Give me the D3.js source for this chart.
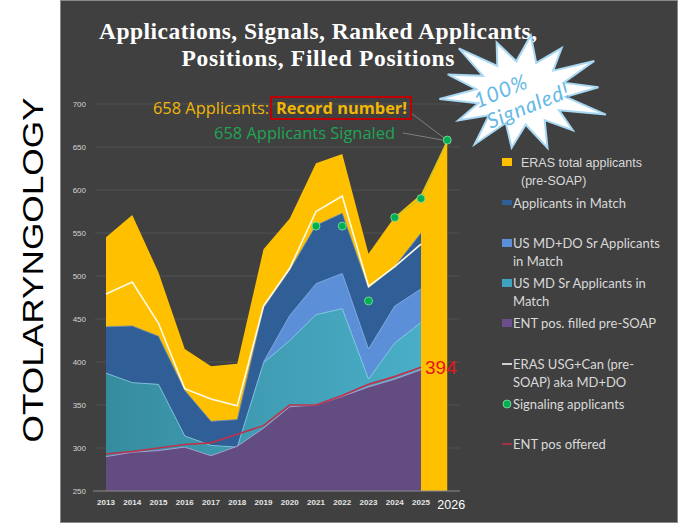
<!DOCTYPE html>
<html>
<head>
<meta charset="utf-8">
<script src="https://cdn.jsdelivr.net/npm/d3@7"></script>
<style>
  body { margin: 0; background: #fff; }
  svg { display: block; }
</style>
</head>
<body>
<div id="chart"></div>
<script>
// -----------
// DATOS
// -----------
const years = [2013, 2014, 2015, 2016, 2017, 2018, 2019, 2020, 2021, 2022, 2023, 2024, 2025, 2026];
const erasTotal = [545, 571, 504, 415, 395, 398, 531, 567, 631, 642, 526, 569, 595, 658];
const inMatch = [441, 442, 430, 367, 331, 333, 463, 507, 559, 573, 486, 511, 550];
const mdDoSr = [null, null, null, null, null, null, 400, 454, 491, 503, 415, 465, 485];
const mdSr = [387, 376, 374, 314, 303, 301, 399, 425, 455, 462, 380, 422, 446];
const entFilled = [290, 295, 297, 301, 291, 302, 323, 348, 350, 360, 371, 380, 391];
const erasUsg = [479, 493, 445, 369, 357, 349, 465, 509, 575, 593, 488, 511, 537];
const entOffered = [293, 296, 300, 304, 306, 316, 326, 350, 350, 361, 374, 383, 394];
const signaling = [null, null, null, null, null, null, null, null, 558, 558, 471, 568, 590, 658];
const yTicks = [250, 300, 350, 400, 450, 500, 550, 600, 650, 700];

const legendItems = [
  { kind: 'sq', color: '#ffc000', lines: ['ERAS total applicants', '(pre-SOAP)'], y: 162, first: true },
  { kind: 'bar', color: '#2f5f96', lines: ['Applicants in Match'], y: 203 },
  { kind: 'sq', color: '#5b8fd8', lines: ['US MD+DO Sr Applicants', 'in Match'], y: 243 },
  { kind: 'sq', color: '#3fa3bf', lines: ['US MD Sr Applicants in', 'Match'], y: 283 },
  { kind: 'sq', color: '#6a4f8c', lines: ['ENT pos. filled pre-SOAP'], y: 323 },
  { kind: 'line', color: '#ffffff', lines: ['ERAS USG+Can (pre-', 'SOAP) aka MD+DO'], y: 364 },
  { kind: 'dot', color: '#00b050', lines: ['Signaling applicants'], y: 404 },
  { kind: 'line', color: '#c0304a', lines: ['ENT pos offered'], y: 444 },
];

const W = 680, H = 528;
const svg = d3.select('#chart').append('svg').attr('width', W).attr('height', H);

// texto vertical
svg.append('text')
  .attr('transform', 'translate(43,270) rotate(-90)')
  .attr('text-anchor', 'middle')
  .attr('font-family', 'Liberation Sans, Arial, sans-serif')
  .attr('font-size', 30)
  .attr('textLength', 345)
  .attr('lengthAdjust', 'spacingAndGlyphs')
  .attr('fill', '#000')
  .text('OTOLARYNGOLOGY');

// panel
svg.append('rect').attr('x', 60.5).attr('y', 0.5).attr('width', 617).attr('height', 522)
  .attr('fill', '#404040').attr('stroke', '#8a8a8a');

const defs = svg.append('defs');
const grad = defs.append('linearGradient').attr('id', 'tealGrad').attr('x1', '0%').attr('x2', '100%');
grad.append('stop').attr('offset', '0%').attr('stop-color', '#368c9f');
grad.append('stop').attr('offset', '100%').attr('stop-color', '#4aaec8');

const x = d3.scaleLinear().domain([2013, 2026]).range([106, 447.25]);
const y = d3.scaleLinear().domain([250, 700]).range([491, 104]);

// grid
svg.append('g').selectAll('line').data(yTicks.filter(d => d > 250)).join('line')
  .attr('x1', 95).attr('x2', 460)
  .attr('y1', d => y(d)).attr('y2', d => y(d))
  .attr('stroke', '#555').attr('stroke-width', 0.8);

// eje y
svg.append('g').selectAll('text').data(yTicks).join('text')
  .attr('x', 86).attr('y', d => y(d) + 3)
  .attr('text-anchor', 'end')
  .attr('font-family', 'Liberation Sans, Arial, sans-serif')
  .attr('font-size', 8)
  .attr('fill', '#d4d4d4')
  .text(d => d);

function serie(vals) {
  return vals.map((v, i) => ({ year: years[i], v }));
}

const area = d3.area()
  .defined(d => d.v != null)
  .x(d => x(d.year))
  .y0(y(250))
  .y1(d => y(d.v));

const line = d3.line()
  .defined(d => d.v != null)
  .x(d => x(d.year))
  .y(d => y(d.v));

const areas = [
  { vals: erasTotal, fill: '#ffc000', edge: 'none' },
  { vals: inMatch, fill: '#2f5f96', edge: '#6f8fb8' },
  { vals: mdDoSr, fill: '#5b8fd8', edge: '#8fb3e6' },
  { vals: mdSr, fill: 'url(#tealGrad)', edge: '#8fd3e6' },
  { vals: entFilled, fill: '#624c80', edge: '#b9a9dc' },
];

areas.forEach(a => {
  const d = serie(a.vals);
  svg.append('path').attr('d', area(d)).attr('fill', a.fill);
  if (a.edge !== 'none') {
    svg.append('path').attr('d', line(d)).attr('fill', 'none')
      .attr('stroke', a.edge).attr('stroke-width', 0.8);
  }
});

// eje x
svg.append('line').attr('x1', 93).attr('x2', 460).attr('y1', y(250)).attr('y2', y(250))
  .attr('stroke', '#8c8c8c').attr('stroke-width', 1);

svg.append('g').selectAll('text').data(years.slice(0, 13)).join('text')
  .attr('x', d => x(d)).attr('y', 505)
  .attr('text-anchor', 'middle')
  .attr('font-family', 'Liberation Sans, Arial, sans-serif')
  .attr('font-weight', 'bold')
  .attr('font-size', 8)
  .attr('fill', '#e6e6e6')
  .text(d => d);
svg.append('text').attr('x', x(2026) + 4).attr('y', 509)
  .attr('text-anchor', 'middle')
  .attr('font-family', 'Liberation Sans, Arial, sans-serif')
  .attr('font-size', 12.5)
  .attr('fill', '#ffffff')
  .text(2026);

// lineas
svg.append('path').attr('d', line(serie(erasUsg))).attr('fill', 'none')
  .attr('stroke', '#fffbe8').attr('stroke-width', 1.6);
svg.append('path').attr('d', line(serie(entOffered))).attr('fill', 'none')
  .attr('stroke', '#c0304a').attr('stroke-width', 1.6);

// linea tenue entre los ultimos puntos de signaling
const sig = serie(signaling);
svg.append('path').attr('d', line(sig.filter(d => d.year >= 2024))).attr('fill', 'none')
  .attr('stroke', '#b8c43a').attr('stroke-width', 1);

svg.append('g').selectAll('circle').data(sig.filter(d => d.v != null)).join('circle')
  .attr('cx', d => x(d.year)).attr('cy', d => y(d.v)).attr('r', 4)
  .attr('fill', '#00b050').attr('stroke', '#8ee0a8').attr('stroke-width', 0.8);

// 394
svg.append('text').attr('x', x(2025) + 4).attr('y', y(entOffered[12]) + 7)
  .attr('font-family', 'Liberation Sans, Arial, sans-serif')
  .attr('font-size', 19)
  .attr('fill', '#e8141c')
  .text(entOffered[12]);

// titulo
const title = svg.append('text')
  .attr('text-anchor', 'middle')
  .attr('font-family', 'Liberation Serif, DejaVu Serif, serif')
  .attr('font-weight', 'bold')
  .attr('font-size', 23.5)
  .attr('lengthAdjust', 'spacingAndGlyphs')
  .attr('fill', '#ffffff');
title.append('tspan').attr('x', 318).attr('y', 39).attr('textLength', 438).text('Applications, Signals, Ranked Applicants,');
title.append('tspan').attr('x', 318).attr('y', 66).attr('textLength', 273).text('Positions, Filled Positions');

// anotaciones
const last = sig[sig.length - 1];
const dotX = x(last.year), dotY = y(last.v);
svg.append('line').attr('x1', 411).attr('y1', 113).attr('x2', dotX - 3).attr('y2', dotY - 2)
  .attr('stroke', '#9a9a9a').attr('stroke-width', 0.7);
svg.append('line').attr('x1', 403).attr('y1', 133).attr('x2', dotX - 4).attr('y2', dotY)
  .attr('stroke', '#9a9a9a').attr('stroke-width', 0.7);

svg.append('rect').attr('x', 271).attr('y', 97).attr('width', 140).attr('height', 22)
  .attr('fill', 'none').attr('stroke', '#c00000').attr('stroke-width', 2);

const annFont = 'Open Sans, Noto Sans, sans-serif';
svg.append('text')
  .attr('font-family', annFont).attr('font-size', 16).attr('fill', '#f2b705')
  .attr('x', 153).attr('y', 114)
  .attr('textLength', 116).attr('lengthAdjust', 'spacingAndGlyphs')
  .text(`${last.v} Applicants:`);
svg.append('text')
  .attr('font-family', annFont).attr('font-size', 15.5).attr('font-weight', 'bold').attr('fill', '#f2b705')
  .attr('x', 276).attr('y', 114)
  .attr('textLength', 131).attr('lengthAdjust', 'spacingAndGlyphs')
  .text('Record number!');

svg.append('text')
  .attr('font-family', annFont).attr('font-size', 16).attr('fill', '#1ea553')
  .attr('x', 214).attr('y', 139)
  .attr('textLength', 181).attr('lengthAdjust', 'spacingAndGlyphs')
  .text(`${last.v} Applicants Signaled`);

// estrella
const spikes = 14;
const outerF = [1.0, 0.92, 1.05, 0.95, 1.1, 0.9, 1.0, 0.95, 1.05, 0.9, 1.0, 0.95, 1.08, 0.92];
const cx = 521, cy = 93, rx = 82, ry = 58;
const pts = [];
for (let i = 0; i < spikes * 2; i++) {
  const a = -Math.PI / 2 + (i * Math.PI) / spikes + 0.12;
  const f = i % 2 === 0 ? outerF[i / 2] : 0.55;
  pts.push([cx + Math.cos(a) * rx * f, cy + Math.sin(a) * ry * f]);
}
svg.append('path').attr('d', d3.line()(pts) + 'Z')
  .attr('fill', '#ffffff').attr('stroke', '#a8d8f2').attr('stroke-width', 2);

const star = svg.append('g').attr('transform', `translate(${cx},${cy}) rotate(-22)`);
star.append('text').attr('x', -18).attr('y', -2)
  .attr('text-anchor', 'middle')
  .attr('font-family', 'Lato, Noto Sans, sans-serif')
  .attr('font-style', 'italic')
  .attr('font-size', 21)
  .attr('letter-spacing', 1)
  .attr('fill', '#63b9e6')
  .text('100%');
star.append('text').attr('x', 2).attr('y', 22)
  .attr('text-anchor', 'middle')
  .attr('font-family', 'Lato, Noto Sans, sans-serif')
  .attr('font-style', 'italic')
  .attr('font-size', 21)
  .attr('letter-spacing', 1)
  .attr('fill', '#63b9e6')
  .text('Signaled!');

// leyenda
const lg = svg.append('g');
legendItems.forEach(it => {
  const g = lg.append('g');
  if (it.kind === 'sq') {
    g.append('rect').attr('x', 502).attr('y', it.y - 4).attr('width', 10).attr('height', 8).attr('fill', it.color);
  } else if (it.kind === 'bar') {
    g.append('rect').attr('x', 502).attr('y', it.y - 3).attr('width', 10).attr('height', 5).attr('fill', it.color);
  } else if (it.kind === 'line') {
    g.append('line').attr('x1', 502).attr('x2', 512).attr('y1', it.y).attr('y2', it.y)
      .attr('stroke', it.color).attr('stroke-width', 1.5);
  } else {
    g.append('circle').attr('cx', 507).attr('cy', it.y).attr('r', 4)
      .attr('fill', it.color).attr('stroke', '#8ee0a8').attr('stroke-width', 0.8);
  }
  const t = g.append('text')
    .attr('font-family', it.first ? 'Liberation Sans, Arial, sans-serif' : 'Lato, Noto Sans, sans-serif')
    .attr('font-size', it.first ? 12.5 : 13)
    .attr('fill', '#d9d9d9');
  it.lines.forEach((s, k) => {
    t.append('tspan').attr('x', it.first ? 521 : 513).attr('y', it.y + 4.5 + k * 18.5).text(s);
  });
});
</script>
</body>
</html>
